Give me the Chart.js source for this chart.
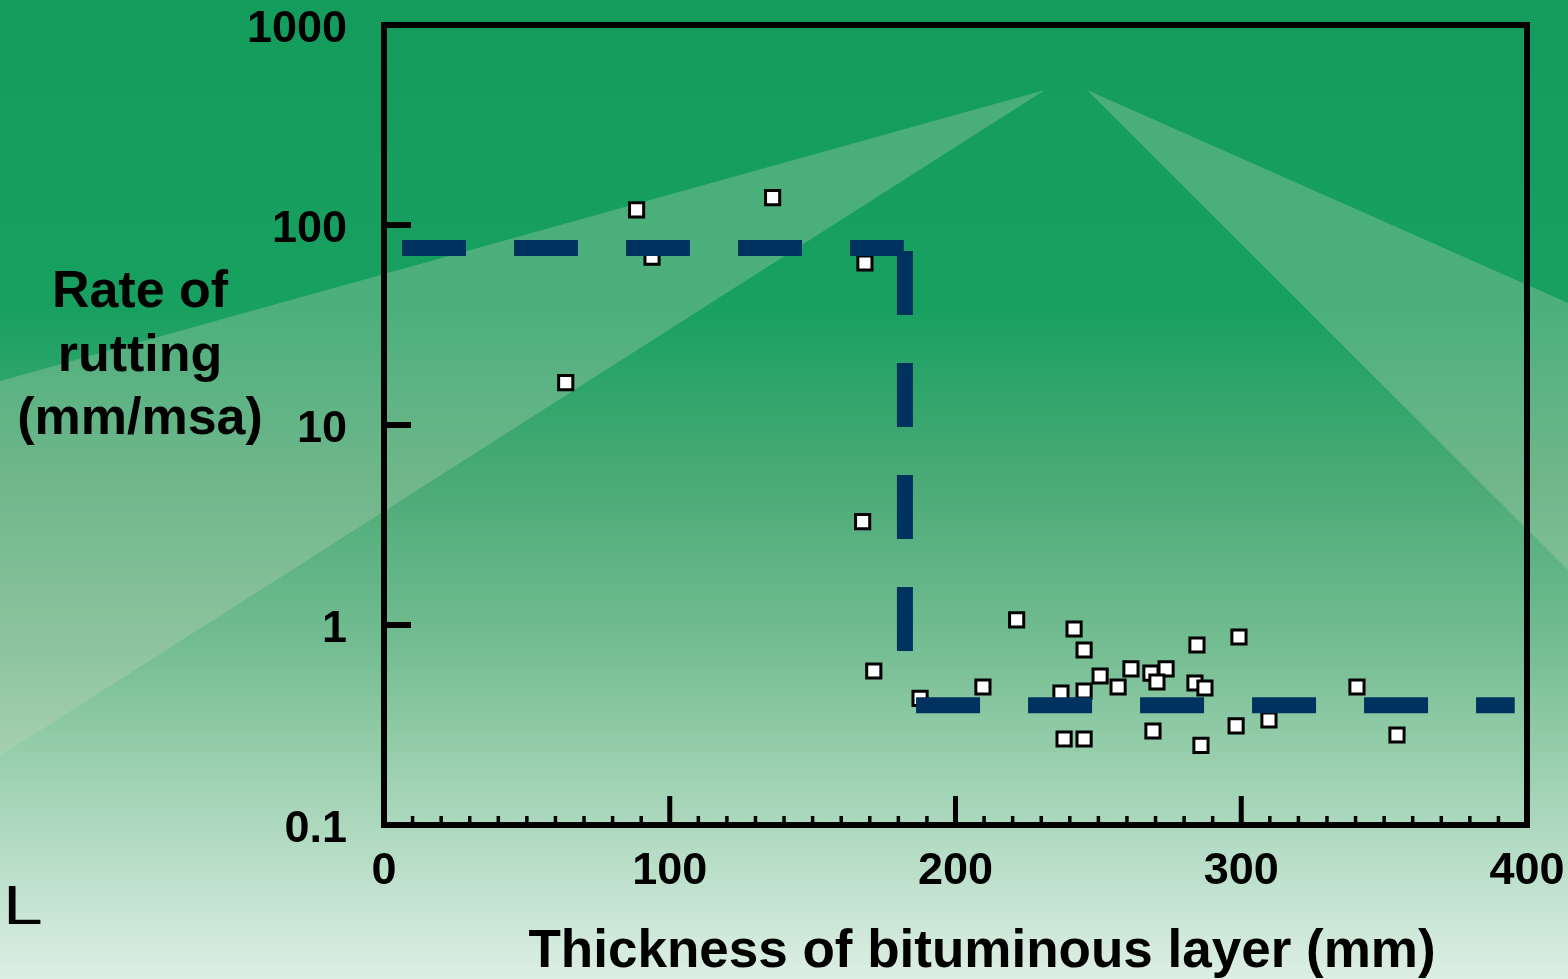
<!DOCTYPE html>
<html>
<head>
<meta charset="utf-8">
<script src="https://cdn.jsdelivr.net/npm/chart.js@4/dist/chart.umd.min.js"></script>
<style>
html,body{margin:0;padding:0;overflow:hidden;background:#17A060;}
canvas{display:block;}
</style>
</head>
<body>
<canvas id="c" width="1568" height="979"></canvas>
<script>
// ---- data ----
const thicknessMm = [63.6, 88.4, 93.8, 136.0, 168.3, 167.5, 171.4, 187.6, 209.6, 221.4,
                     241.5, 245.0, 250.6, 236.9, 245.0, 256.9, 261.4, 268.4, 273.7, 270.5,
                     284.5, 299.2, 283.8, 287.3, 238.0, 245.0, 269.1, 285.9, 298.2, 309.7,
                     340.5, 354.5];
const rutRate = [16.3, 119, 69, 137, 64.6, 3.29, 0.589, 0.43, 0.49, 1.06,
                 0.955, 0.75, 0.556, 0.457, 0.468, 0.49, 0.603, 0.575, 0.603, 0.519,
                 0.794, 0.871, 0.513, 0.484, 0.269, 0.269, 0.295, 0.25, 0.313, 0.335,
                 0.49, 0.282];

// dashed threshold line (three legs)
const upperLegX = [6.3, 181.9];
const upperLegY = [76.7, 76.7];
const stepLegX = [182.3, 182.3];
const stepLegY = [74.1, 0.741];
const lowerLegX = [186.2, 395.7];
const lowerLegY = [0.397, 0.397];

// axes
const xTickValues = [0, 100, 200, 300, 400];
const xTickLabels = ['0', '100', '200', '300', '400'];
const xMinorStep = 10;
const yTickValues = [0.1, 1, 10, 100, 1000];
const yTickLabels = ['0.1', '1', '10', '100', '1000'];
const yInnerTicks = [1, 10, 100];

const yTitleLines = ['Rate of', 'rutting', '(mm/msa)'];
const xTitle = 'Thickness of bituminous layer (mm)';
const cornerText = 'L';

// ---- chart ----
const FONT = "'Liberation Sans', Arial, sans-serif";
Chart.defaults.font.family = FONT;
const navy = '#00325F';

const pairs = (xs, ys) => xs.map((x, i) => ({x: x, y: ys[i]}));

const bgPlugin = {
  id: 'bg',
  beforeDraw(chart) {
    const ctx = chart.ctx, W = chart.width, H = chart.height;
    ctx.save();
    const g = ctx.createLinearGradient(0, 0, 0, H);
    g.addColorStop(0, '#149C5D');
    g.addColorStop(0.31, '#17A060');
    g.addColorStop(0.49, '#4AAA76');
    g.addColorStop(0.66, '#74BD92');
    g.addColorStop(0.8, '#A0D2B3');
    g.addColorStop(1, '#DDEFE5');
    ctx.fillStyle = g;
    ctx.fillRect(0, 0, W, H);
    ctx.fillStyle = 'rgba(200,212,188,0.3)';
    ctx.beginPath();
    ctx.moveTo(1045, 90); ctx.lineTo(0, 381); ctx.lineTo(0, 756); ctx.closePath();
    ctx.fill();
    ctx.beginPath();
    ctx.moveTo(1087, 90); ctx.lineTo(1568, 303); ctx.lineTo(1568, 570); ctx.closePath();
    ctx.fill();
    ctx.restore();
  }
};

const framePlugin = {
  id: 'frame',
  afterDatasetsDraw(chart) {
    const ctx = chart.ctx, a = chart.chartArea;
    const xs = chart.scales.x, ys = chart.scales.y;
    ctx.save();
    ctx.strokeStyle = '#000';
    ctx.lineCap = 'butt';
    ctx.lineWidth = 6;
    ctx.strokeRect(a.left, a.top, a.right - a.left, a.bottom - a.top);
    ctx.lineWidth = 6;
    yInnerTicks.forEach(v => {
      const p = ys.getPixelForValue(v);
      ctx.beginPath(); ctx.moveTo(a.left, p); ctx.lineTo(a.left + 27, p); ctx.stroke();
    });
    for (let v = xMinorStep; v < xs.max; v += xMinorStep) {
      const p = xs.getPixelForValue(v);
      const major = xTickValues.includes(v);
      ctx.lineWidth = major ? 5 : 3.5;
      ctx.beginPath();
      ctx.moveTo(p, a.bottom + 3);
      ctx.lineTo(p, a.bottom - (major ? 29 : 9));
      ctx.stroke();
    }
    ctx.restore();
  },
  afterDraw(chart) {
    const ctx = chart.ctx;
    ctx.save();
    ctx.fillStyle = '#000';
    ctx.textAlign = 'center';
    ctx.textBaseline = 'alphabetic';
    ctx.font = 'bold 52px ' + FONT;
    yTitleLines.forEach((t, i) => ctx.fillText(t, 140, 307 + i * 63.5));
    ctx.font = 'bold 53px ' + FONT;
    ctx.fillText(xTitle, 982, 967);
    ctx.font = '55px ' + FONT;
    ctx.textAlign = 'left';
    ctx.translate(3, 924);
    ctx.scale(1.3, 1);
    ctx.fillText(cornerText, 0, 0);
    ctx.restore();
  }
};

new Chart(document.getElementById('c'), {
  type: 'scatter',
  data: {
    datasets: [
      {data: pairs(upperLegX, upperLegY), showLine: true, borderColor: navy, borderWidth: 16,
       borderDash: [64, 48], borderCapStyle: 'butt', pointRadius: 0, tension: 0, fill: false},
      {data: pairs(stepLegX, stepLegY), showLine: true, borderColor: navy, borderWidth: 16,
       borderDash: [64, 48], borderCapStyle: 'butt', pointRadius: 0, tension: 0, fill: false},
      {data: pairs(lowerLegX, lowerLegY), showLine: true, borderColor: navy, borderWidth: 16,
       borderDash: [64, 48], borderCapStyle: 'butt', pointRadius: 0, tension: 0, fill: false},
      {data: pairs(thicknessMm, rutRate), pointStyle: 'rect', pointRadius: 10,
       backgroundColor: '#ffffff', borderColor: '#000000', borderWidth: 3}
    ]
  },
  options: {
    responsive: false,
    animation: false,
    devicePixelRatio: 1,
    layout: {padding: {left: 0, top: 25, right: 41, bottom: 0}},
    plugins: {legend: {display: false}, tooltip: {enabled: false}},
    scales: {
      x: {
        type: 'linear', min: 0, max: 400,
        afterBuildTicks: s => { s.ticks = xTickValues.map(v => ({value: v})); },
        afterFit: s => { s.height = 154; s.paddingLeft = 0; s.paddingRight = 0; },
        ticks: {
          callback: v => xTickLabels[xTickValues.indexOf(v)],
          color: '#000', padding: 24, maxRotation: 0, autoSkip: false,
          font: {size: 45, weight: 'bold', lineHeight: 1}
        },
        grid: {display: false, drawTicks: false},
        border: {display: false}
      },
      y: {
        type: 'logarithmic', min: 0.1, max: 1000,
        afterBuildTicks: s => { s.ticks = yTickValues.map(v => ({value: v})); },
        afterFit: s => { s.width = 384; s.paddingTop = 0; s.paddingBottom = 0; },
        ticks: {
          callback: v => yTickLabels[yTickValues.indexOf(v)],
          color: '#000', padding: 37, autoSkip: false, labelOffset: 5,
          font: {size: 45, weight: 'bold', lineHeight: 1}
        },
        grid: {display: false, drawTicks: false},
        border: {display: false}
      }
    }
  },
  plugins: [bgPlugin, framePlugin]
});
</script>
</body>
</html>
